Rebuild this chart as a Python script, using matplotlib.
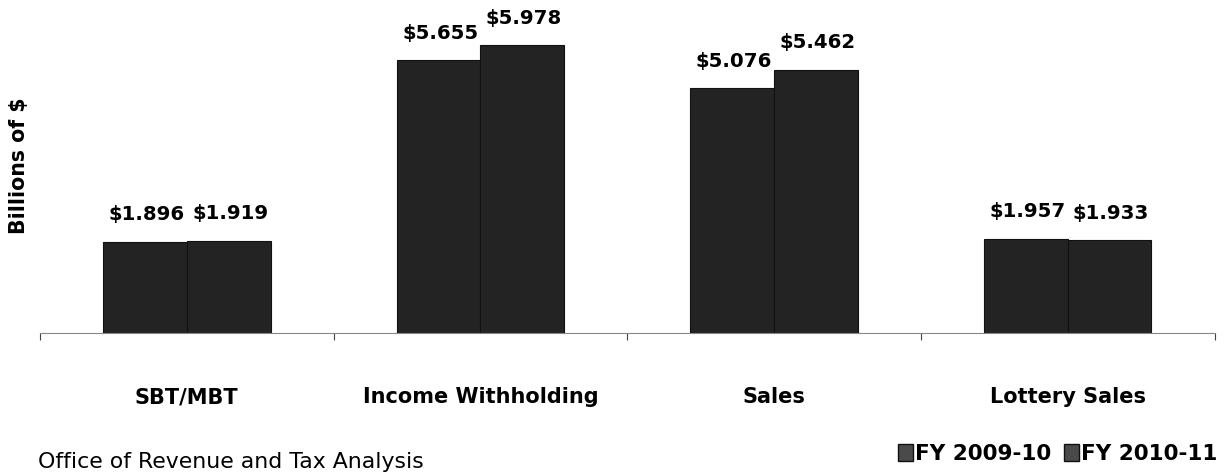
import numpy as np
import matplotlib
matplotlib.use('Agg')
from matplotlib import pyplot as plt
from matplotlib.patches import Patch

categories = ['SBT/MBT', 'Income Withholding', 'Sales', 'Lottery Sales']
fy_2009_10 = [1.896, 5.655, 5.076, 1.957]
fy_2010_11 = [1.919, 5.978, 5.462, 1.933]
series_names = ['FY 2009-10', 'FY 2010-11']

plt.rcParams['font.family'] = ['DejaVu Sans']

fig = plt.figure(figsize=(12.3, 4.76), dpi=100)
ax = fig.add_axes([0.0325, 0.3004, 0.955, 0.6996])

x = np.arange(len(categories))
w = 0.285
bar_color = '#232323'
b1 = ax.bar(x - w / 2, fy_2009_10, w, color=bar_color, edgecolor='#111111', linewidth=0.8)
b2 = ax.bar(x + w / 2, fy_2010_11, w, color=bar_color, edgecolor='#111111', linewidth=0.8)

# value labels above each bar
for bars, vals in ((b1, fy_2009_10), (b2, fy_2010_11)):
    for rect, v in zip(bars, vals):
        ax.text(rect.get_x() + rect.get_width() / 2 + 0.005, v + 0.36, '$%.3f' % v,
                ha='center', va='bottom', fontsize=14.2, fontweight='bold')

ax.set_xlim(-0.5, len(categories) - 0.5)
ax.set_ylim(0, 6.91)
ax.set_xticks(np.arange(len(categories) + 1) - 0.5)
ax.set_xticklabels([])
ax.set_xticks(x, minor=True)
ax.set_xticklabels(categories, minor=True, fontsize=15, fontweight='bold')
ax.tick_params(axis='x', which='major', length=5, color='#444444', direction='out')
ax.tick_params(axis='x', which='minor', length=0, pad=39)
ax.set_yticks([])
for s in ('top', 'right', 'left'):
    ax.spines[s].set_visible(False)
ax.spines['bottom'].set_color('#888888')

fig.text(0.0155, 0.651, 'Billions of $', rotation=90, ha='center', va='center',
         fontsize=14.8, fontweight='bold')
fig.text(0.031, 0.029, 'Office of Revenue and Tax Analysis', fontsize=15.8,
         ha='left', va='center')

handles = [Patch(facecolor='#4a4a4a', edgecolor='#111111'), Patch(facecolor='#4a4a4a', edgecolor='#111111')]
fig.legend(handles, series_names, loc='center right', bbox_to_anchor=(0.99, 0.046),
           ncol=2, frameon=False, prop={'weight': 'bold', 'size': 15.5},
           borderaxespad=0, borderpad=0,
           handlelength=0.7, handleheight=0.8, handletextpad=0.1, columnspacing=0.6)

fig.savefig('out.png', dpi=100)
